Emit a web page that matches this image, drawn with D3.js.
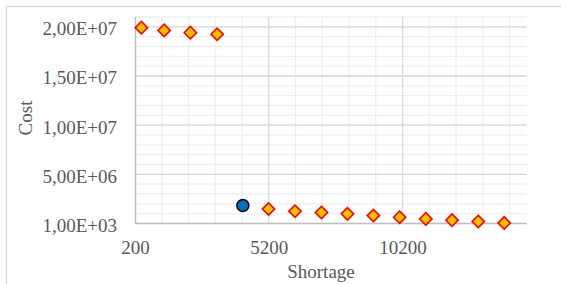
<!DOCTYPE html>
<html>
<head>
<meta charset="utf-8">
<script src="https://cdn.jsdelivr.net/npm/d3@7"></script>
<style>
  body { margin: 0; background: #fff; }
  text { font-family: "Liberation Serif", "Times New Roman", serif; fill: #595959; }
</style>
</head>
<body>
<div id="chart"></div>
<script>
// series
var shortage = [440, 1290, 2270, 3270, 5190, 6180, 7170, 8140, 9110, 10090, 11070, 12050, 13030, 14000];
var cost = [19.92e6, 19.64e6, 19.41e6, 19.24e6, 1.48e6, 1.25e6, 1.12e6, 0.98e6, 0.81e6, 0.64e6, 0.47e6, 0.34e6, 0.2e6, 0.06e6];
var pickShortage = [4230];
var pickCost = [1.83e6];

var xTicks = [200, 5200, 10200];
var xMinor = [1200, 2200, 3200, 4200, 6200, 7200, 8200, 9200, 11200, 12200, 13200, 14200];
var yTicks = [1000, 5001000, 10001000, 15001000, 20001000];
var yMinor = d3.range(0, 22).map(function(k) { return 1000 + k * 1e6; });

var width = 561, height = 284;
var svg = d3.select('#chart').append('svg').attr('width', width).attr('height', height);

// chart frame (cropped at right and bottom)
svg.append('rect').attr('x', 6.5).attr('y', 6.5).attr('width', 600).attr('height', 300)
  .attr('fill', '#fff').attr('stroke', '#D9D9D9').attr('stroke-width', 1.3);

var x = d3.scaleLinear().domain([200, 14840]).range([135, 526.7]);
var y = d3.scaleLinear().domain([1000, 21001000]).range([223.5, 17]);

function sci(v) {
  var e = Math.floor(Math.log10(v));
  var m = (v / Math.pow(10, e)).toFixed(2).replace('.', ',');
  return m + 'E+' + (e < 10 ? '0' : '') + e;
}

// minor grid
svg.append('g').selectAll('line').data(yMinor).enter().append('line')
  .attr('x1', x.range()[0]).attr('x2', x.range()[1])
  .attr('y1', function(d) { return y(d); })
  .attr('y2', function(d) { return y(d); })
  .attr('stroke', '#EFEFEF').attr('stroke-width', 1.3);
svg.append('g').selectAll('line').data(xMinor).enter().append('line')
  .attr('y1', y.range()[0]).attr('y2', y.range()[1])
  .attr('x1', function(d) { return x(d); })
  .attr('x2', function(d) { return x(d); })
  .attr('stroke', '#EFEFEF').attr('stroke-width', 1.3);

// major grid
svg.append('g').selectAll('line').data(yTicks.slice(1)).enter().append('line')
  .attr('x1', x.range()[0]).attr('x2', x.range()[1])
  .attr('y1', function(d) { return y(d); })
  .attr('y2', function(d) { return y(d); })
  .attr('stroke', '#D9D9D9').attr('stroke-width', 1.3);
svg.append('g').selectAll('line').data(xTicks.slice(1)).enter().append('line')
  .attr('y1', y.range()[0]).attr('y2', y.range()[1])
  .attr('x1', function(d) { return x(d); })
  .attr('x2', function(d) { return x(d); })
  .attr('stroke', '#D9D9D9').attr('stroke-width', 1.3);

// axis lines
svg.append('line').attr('x1', 135.5).attr('x2', 135.5).attr('y1', y.range()[0]).attr('y2', y.range()[1])
  .attr('stroke', '#BFBFBF').attr('stroke-width', 1.5);
svg.append('line').attr('x1', x.range()[0]).attr('x2', x.range()[1]).attr('y1', 223.5).attr('y2', 223.5)
  .attr('stroke', '#BFBFBF').attr('stroke-width', 1.5);

// axes labels
var yAxis = svg.append('g').attr('transform', 'translate(135,0)')
  .call(d3.axisLeft(y).tickValues(yTicks).tickFormat(sci).tickSize(0).tickPadding(18));
var xAxis = svg.append('g').attr('transform', 'translate(0,223.5)')
  .call(d3.axisBottom(x).tickValues(xTicks).tickFormat(d3.format('d')).tickSize(0).tickPadding(17));
[yAxis, xAxis].forEach(function(a) {
  a.select('.domain').remove();
  a.selectAll('text').style('font-size', '19px').attr('fill', '#595959')
    .style('font-family', '"Liberation Serif", serif');
});
yAxis.selectAll('text').attr('dy', '0.42em');

// titles
svg.append('text').attr('transform', 'translate(25,118) rotate(-90)')
  .attr('text-anchor', 'middle').attr('dy', '0.35em').style('font-size', '19px').text('Cost');
svg.append('text').attr('x', 321).attr('y', 278)
  .attr('text-anchor', 'middle').style('font-size', '19px').text('Shortage');

// diamonds
svg.append('g').selectAll('path').data(shortage).enter().append('path')
  .attr('d', d3.symbol().type(d3.symbolSquare).size(76))
  .attr('transform', function(d, i) { return 'translate(' + x(d) + ',' + y(cost[i]) + ') rotate(45)'; })
  .attr('fill', '#FFC000').attr('stroke', '#FF0000').attr('stroke-width', 1.6);

// selected point
svg.append('g').selectAll('circle').data(pickShortage).enter().append('circle')
  .attr('cx', function(d) { return x(d); })
  .attr('cy', function(d, i) { return y(pickCost[i]); })
  .attr('r', 6).attr('fill', '#0070C0').attr('stroke', '#000').attr('stroke-width', 1.5);
</script>
</body>
</html>
